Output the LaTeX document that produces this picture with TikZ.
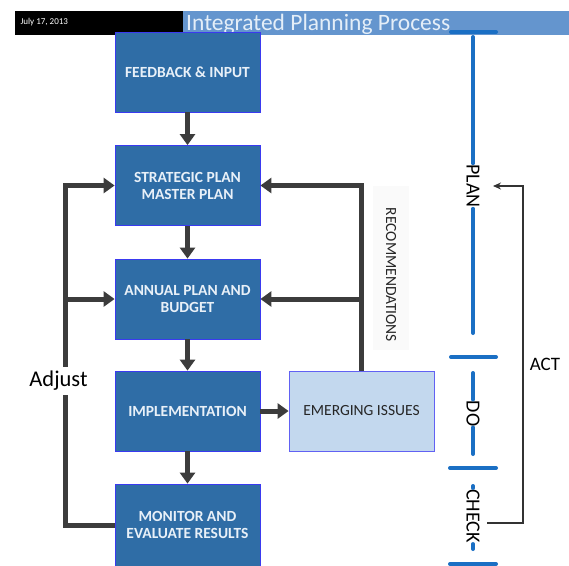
\documentclass[tikz,border=0pt]{standalone}
\usepackage{fontspec}
\setmainfont{Carlito}
\usetikzlibrary{arrows.meta}
\definecolor{boxblue}{HTML}{2F6DA6}
\definecolor{boxedge}{HTML}{3A3AF0}
\definecolor{boxtext}{HTML}{E8F0F8}
\definecolor{issuefill}{HTML}{C3D8EE}
\definecolor{headblue}{HTML}{6495CE}
\definecolor{titletext}{HTML}{E4EEF8}
\definecolor{flowgray}{HTML}{3C3C3C}
\definecolor{cycleblue}{HTML}{1A6FC4}
\tikzset{
  stepbox/.style={draw=boxedge, line width=0.8pt, fill=boxblue, text=boxtext,
    minimum width=145pt, minimum height=80pt, align=center, inner sep=2pt,
    font=\fontsize{15.5}{17}\selectfont\bfseries},
  issuebox/.style={draw=boxedge!80, line width=0.8pt, fill=issuefill, text=black!85,
    minimum width=145pt, minimum height=80pt, align=center,
    font=\fontsize{15.5}{17}\selectfont},
  flow/.style={draw=flowgray, line width=5pt,
    -{Triangle[length=11pt,width=15pt]}},
  cycle/.style={draw=cycleblue, line width=4pt, line cap=round},
  phase/.style={font=\fontsize{20}{20}\selectfont, rotate=-90, inner sep=1pt},
  actline/.style={draw=black!80, line width=1.2pt},
}
\begin{document}
\begin{tikzpicture}[x=1pt,y=-1pt]
\useasboundingbox (0,0) rectangle (569,565);
\fill[white] (0,0) rectangle (569,565);

% header band
\fill[black] (15,11) rectangle (183,35);
\fill[headblue] (183,11) rectangle (569,35);
\node[text=white, font=\fontsize{9}{9}\selectfont, anchor=west] (date) at (17,22) {July 17, 2013};
\node[text=titletext, font=\fontsize{23.5}{23.5}\selectfont, anchor=west, inner sep=0pt] (title) at (186,24) {Integrated Planning Process};

% faint band behind the recommendations label
\fill[black!2] (373,186) rectangle (409,350);

% process boxes
\node[stepbox] (fb)  at (187.5,72)  {FEEDBACK \& INPUT};
\node[stepbox] (sp)  at (187.5,185.5) {STRATEGIC PLAN\\MASTER PLAN};
\node[stepbox] (ann) at (187.5,299) {ANNUAL PLAN AND\\BUDGET};
\node[stepbox] (imp) at (187.5,411) {IMPLEMENTATION};
\node[stepbox, minimum height=82pt] (mon) at (187.5,525) {MONITOR AND\\EVALUATE RESULTS};
\node[issuebox] (emg) at (361.5,411) {EMERGING ISSUES};

% main flow
\draw[flow] (fb.south) -- (sp.north);
\draw[flow] (sp.south) -- (ann.north);
\draw[flow] (ann.south) -- (imp.north);
\draw[flow] (imp.south) -- (mon.north);
\draw[flow] (imp.east) -- (emg.west);

% adjust loop
\coordinate (lt) at (65,185.5);
\coordinate (lm) at (65,299);
\draw[flow] (mon.west) -| (lt) -- (sp.west);
\draw[flow] (lm) -- (ann.west);
\node[fill=white, font=\fontsize{22.5}{22.5}\selectfont, inner xsep=1pt, inner ysep=4pt] (adj) at (58.5,381) {Adjust};

% recommendations loop
\coordinate (rm) at (emg.north |- ann.east);
\draw[flow] (emg.north) |- (sp.east);
\draw[flow] (rm) -- (ann.east);
\node[rotate=-90, font=\fontsize{15.5}{15.5}\selectfont, text=black!85] (rec) at (391,275) {RECOMMENDATIONS};

% plan-do-check cycle
\node[phase] (plan)  at (473,186) {PLAN};
\node[phase] (do)    at (473,413.5) {DO};
\node[phase] (check) at (473,516) {CHECK};
\coordinate (b0l) at (451,32);  \coordinate (b0r) at (496,32);
\coordinate (b1l) at (451,357); \coordinate (b1r) at (496,357);
\coordinate (b2l) at (450,468); \coordinate (b2r) at (496,468);
\coordinate (b3l) at (450,564); \coordinate (b3r) at (496,564);
\draw[cycle] (b0l) -- (b0r);
\draw[cycle] (b1l) -- (b1r);
\draw[cycle] (b2l) -- (b2r);
\draw[cycle] (b3l) -- (b3r);
\draw[cycle] (473,37) -- (plan.west);
\draw[cycle] (plan.east) -- (473,333);
\draw[cycle] (473,373) -- (do.west);
\draw[cycle] (do.east) -- (473,454);
\draw[cycle] (473,486) -- (check.west);
\draw[cycle] (check.east) -- (473,549);

% act return path
\coordinate (a1) at (487,523);
\coordinate (a2) at (523,523);
\coordinate (a3) at (523,186);
\coordinate (a4) at (493,186);
\draw[actline, -{Stealth[length=8pt,width=7pt]}] (a1) -- (a2) -- (a3) -- (a4);
\node[font=\fontsize{19}{19}\selectfont] (act) at (545,364) {ACT};
\end{tikzpicture}
\end{document}
